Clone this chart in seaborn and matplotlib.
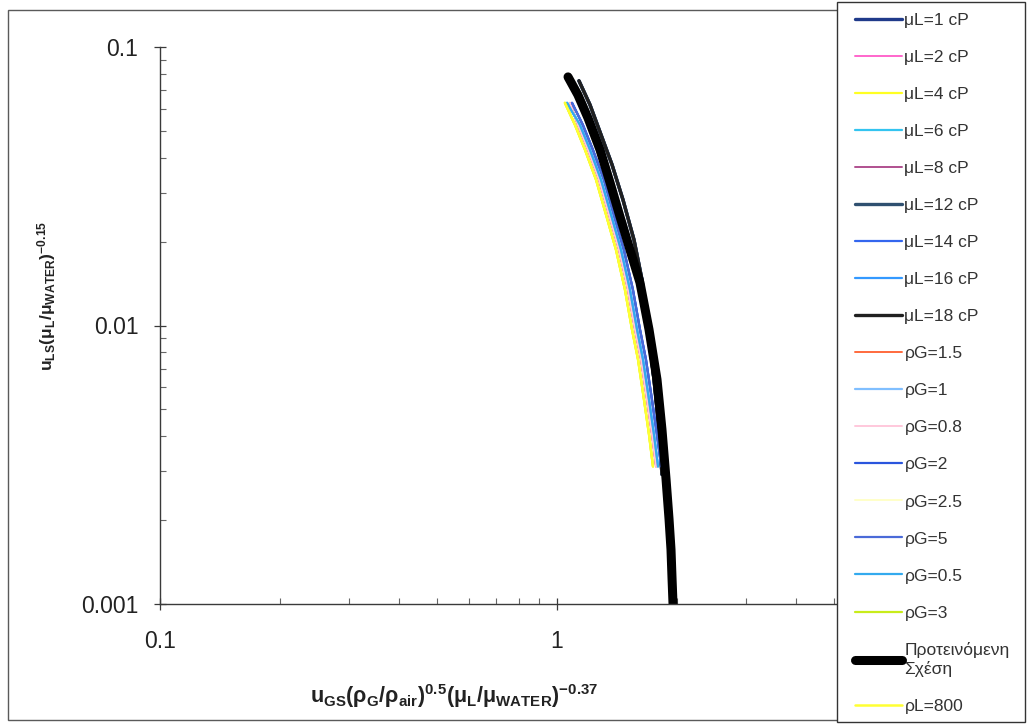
import numpy as np
import pandas as pd
import matplotlib
matplotlib.use("Agg")
import matplotlib.pyplot as plt
from matplotlib.patches import Rectangle
import seaborn as sns

# ---- data: transition curves as (x, y) pairs per curve family ----
# Proposed correlation (thick black)
prop_x = [1.066, 1.129, 1.197, 1.283, 1.360, 1.441, 1.527, 1.618, 1.705,
          1.786, 1.838, 1.882, 1.915, 1.937, 1.949, 1.960]
prop_y = [0.0781, 0.0673, 0.0556, 0.0428, 0.0326, 0.0246, 0.0187, 0.01426,
          0.00968, 0.00640, 0.00424, 0.00281, 0.00202, 0.00157, 0.00123, 0.001]

# dark (navy / slate / near-black) viscosity curves
dark_x = [1.136, 1.211, 1.291, 1.376, 1.466, 1.563, 1.637, 1.695, 1.755, 1.807, 1.838]
dark_y = [0.0756, 0.0620, 0.0484, 0.0378, 0.0283, 0.0203, 0.01462, 0.00968,
          0.00640, 0.00424, 0.00292]

# shared y levels of the coloured bundle
bundle_y = [0.0630, 0.0525, 0.0428, 0.0334, 0.0250, 0.0187, 0.01346, 0.00968,
            0.00755, 0.00543, 0.00407, 0.00312]

# yellow family
yel_x = [1.047, 1.110, 1.176, 1.254, 1.329, 1.408, 1.483, 1.545, 1.600, 1.656, 1.705, 1.745]
# pink / orange family
pink_x = [1.078, 1.129, 1.197, 1.276, 1.352, 1.433, 1.509, 1.572, 1.628, 1.685, 1.735, 1.776]
# light blue family
lblue_x = [1.060, 1.142, 1.210, 1.290, 1.368, 1.449, 1.526, 1.590, 1.646, 1.704, 1.754, 1.796]
# medium blue family
blue_x = [1.091, 1.162, 1.231, 1.313, 1.391, 1.474, 1.553, 1.618, 1.675, 1.734, 1.785, 1.830]

curves = {
    "prop": (prop_x, prop_y),
    "dark": (dark_x, dark_y),
    "yel": (yel_x, bundle_y),
    "pink": (pink_x, bundle_y),
    "lblue": (lblue_x, bundle_y),
    "blue": (blue_x, bundle_y),
}

series_labels = ["μL=1 cP", "μL=2 cP", "μL=4 cP", "μL=6 cP", "μL=8 cP",
                 "μL=12 cP", "μL=14 cP", "μL=16 cP", "μL=18 cP",
                 "ρG=1.5", "ρG=1", "ρG=0.8", "ρG=2", "ρG=2.5", "ρG=5",
                 "ρG=0.5", "ρG=3", "Προτεινόμενη\nΣχέση", "ρL=800"]
series_curve = ["dark", "pink", "yel", "lblue", "pink",
                "dark", "blue", "lblue", "dark",
                "pink", "lblue", "pink", "blue", "yel", "blue",
                "lblue", "yel", "prop", "yel"]
series_color = ["#1f3a8a", "#ff66cc", "#ffff22", "#33c4f0", "#b0508f",
                "#2f5070", "#3366ee", "#3399ff", "#202020",
                "#ff6a3d", "#80bfff", "#ffc8dc", "#2a55dd", "#ffffc8", "#4a6ad8",
                "#33aaee", "#c8ec1a", "#000000", "#ffff33"]
series_lw = [2.4, 1.4, 1.6, 1.6, 1.4,
             2.4, 1.6, 1.6, 2.4,
             1.4, 1.6, 1.4, 1.6, 1.4, 1.6,
             1.6, 1.6, 6.5, 1.8]

# ---- styling ----
sns.set_theme(style="white")
plt.rcParams["font.family"] = ["Liberation Sans", "DejaVu Sans"]
plt.rcParams["mathtext.fontset"] = "custom"
plt.rcParams["mathtext.rm"] = "Liberation Sans"
plt.rcParams["mathtext.it"] = "Liberation Sans:italic"
plt.rcParams["mathtext.bf"] = "Liberation Sans:bold"

fig = plt.figure(figsize=(10.28, 7.26), dpi=100)
W, H = 1028, 726
ax = fig.add_axes([160 / W, 1 - 604 / H, (838 - 160) / W, (604 - 47) / H])

for lab, cv, col, lw in zip(series_labels, series_curve, series_color, series_lw):
    cx, cy = curves[cv]
    df = pd.DataFrame({"x": cx, "y": cy})
    sns.lineplot(data=df, x="x", y="y", ax=ax, color=col, lw=lw, label=lab,
                 sort=False, estimator=None, solid_capstyle="round",
                 solid_joinstyle="round")

ax.set_xscale("log")
ax.set_yscale("log")
ax.set_xlim(0.1, 10 ** (np.log10(0.1) + (838 - 160) / 397))
ax.set_ylim(0.001, 0.1)

ax.set_xticks([0.1, 1])
ax.set_xticklabels(["0.1", "1"])
ax.set_yticks([0.001, 0.01, 0.1])
ax.set_yticklabels(["0.001", "0.01", "0.1"])

for side in ("top", "right"):
    ax.spines[side].set_visible(False)
for side in ("left", "bottom"):
    ax.spines[side].set_color("#3a3a3a")
    ax.spines[side].set_linewidth(1.0)

ax.tick_params(which="both", bottom=True, left=True, top=False, right=False)
ax.tick_params(which="major", direction="inout", length=9, width=0.9,
               color="#3a3a3a", labelsize=16.5, labelcolor="#222222")
ax.tick_params(axis="y", which="major", pad=11)
ax.tick_params(axis="x", which="major", pad=14)
ax.tick_params(which="minor", direction="in", length=4, width=0.8, color="#666666")
ax.xaxis.set_minor_formatter(matplotlib.ticker.NullFormatter())
ax.yaxis.set_minor_formatter(matplotlib.ticker.NullFormatter())

ax.set_xlabel(r"$\mathbf{u_{GS}(\rho_G/\rho_{air})^{0.5}(\mu_L/\mu_{WATER})^{-0.37}}$",
              fontsize=15.5, color="#222222")
ax.set_ylabel(r"$\mathbf{u_{LS}(\mu_L/\mu_{WATER})^{-0.15}}$",
              fontsize=12.5, color="#222222")
ax.xaxis.set_label_coords((454 - 160) / 678, (604 - 682) / 557)
ax.yaxis.set_label_coords((58 - 160) / 678, (604 - 296) / 557)

# outer chart frame
fig.patches.append(Rectangle((8 / W, 1 - 720 / H), (1022 - 8) / W, (720 - 10) / H,
                             transform=fig.transFigure, fill=False,
                             edgecolor="#5a5a5a", lw=1.0, zorder=0))
# legend box
fig.patches.append(Rectangle((837 / W, 1 - 722 / H), (1025 - 837) / W, (722 - 2) / H,
                             transform=fig.transFigure, facecolor="white",
                             edgecolor="#333333", lw=1.0, zorder=1))

handles, labels = ax.get_legend_handles_labels()
ax.get_legend().remove()
leg = fig.legend(handles, labels, loc="upper left",
                 bbox_to_anchor=(855 / W, 1 - 13 / H),
                 fontsize=12.5, frameon=False, handlelength=2.7,
                 handletextpad=0.15, labelspacing=1.26, borderpad=0.0,
                 borderaxespad=0)
leg.set_zorder(2)
for t in leg.get_texts():
    t.set_color("#333333")

fig.savefig("out.png", dpi=100, facecolor="white")
